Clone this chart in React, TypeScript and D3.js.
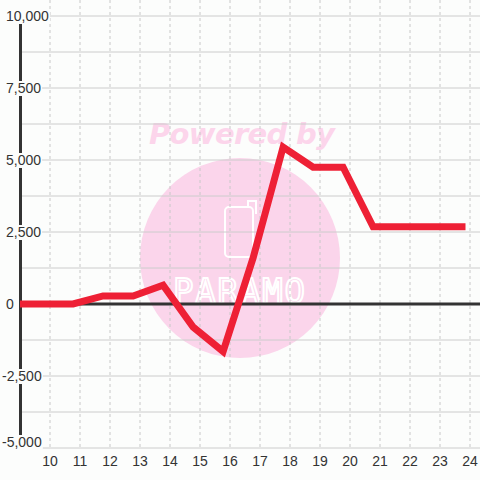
import React from "react";
import * as d3 from "d3";

const hours = [9, 10.77, 11.77, 12.77, 13.77, 14.77, 15.77, 16.77, 17.77, 18.77, 19.77, 20.77, 21.77, 22.77, 23.85];
const values = [0, 0, 280, 280, 650, -800, -1650, 1600, 5450, 4750, 4750, 2680, 2680, 2680, 2680];
const xTicks = [10, 11, 12, 13, 14, 15, 16, 17, 18, 19, 20, 21, 22, 23, 24];
const yTicks = [-5000, -2500, 0, 2500, 5000, 7500, 10000];
const yGrid = [-5000, -3750, -2500, -1250, 0, 1250, 2500, 3750, 5000, 6250, 7500, 8750, 10000];

const W = 480;
const H = 480;
const BG = "#fcfdfc";

export default function App() {
  const x = d3.scaleLinear().domain([9, 24.3333]).range([20, 480]);
  const y = d3.scaleLinear().domain([-5000, 10000]).range([448, 16]);
  const fmt = d3.format(",");
  const line = d3
    .line<number>()
    .x((_, i) => x(hours[i]))
    .y((d) => y(d));
  const path = line(values) || "";

  const charW = (s: string) =>
    s.split("").reduce((a, c) => a + (c === "," ? 3.9 : c === "-" ? 4.7 : 7.8), 0);

  return (
    <svg
      width={W}
      height={H}
      style={{ position: "absolute", left: 0, top: 0, background: BG }}
      fontFamily="'Liberation Sans', Arial, sans-serif"
    >
      <rect x={0} y={0} width={W} height={H} fill={BG} />
      {/* watermark */}
      <g>
        <circle cx={240} cy={258} r={100} fill="#fbd5eb" />
        <text
          x={242}
          y={144}
          textAnchor="middle"
          fontSize={29}
          fontWeight="bold"
          fontStyle="italic"
          fill="#fcd5eb"
          textLength={186}
          fontFamily="'DejaVu Sans', sans-serif"
        >
          Powered by
        </text>
        <rect x={225} y={207} width={28} height={50} rx={4} fill="none" stroke="#fff" strokeWidth={2} />
        <path d="M248,207 L248,201 L256,201 L256,214" fill="none" stroke="#fff" strokeWidth={2} />
        <text
          x={239}
          y={303}
          textAnchor="middle"
          fontSize={34}
          fill="none"
          stroke="#fff"
          strokeWidth={2}
          textLength={132}
          fontFamily="'DejaVu Sans Mono', monospace"
        >
          PARAMO
        </text>
      </g>
      {/* horizontal grid */}
      {yGrid.map((v) => (
        <line key={"h" + v} x1={20} x2={480} y1={y(v)} y2={y(v)} stroke="#cccccc" strokeWidth={1} />
      ))}
      {/* vertical grid */}
      {xTicks.map((t) => (
        <line
          key={"v" + t}
          x1={x(t)}
          x2={x(t)}
          y1={0}
          y2={448}
          stroke="#c8c8c8"
          strokeWidth={1}
          strokeDasharray="3,3"
        />
      ))}
      {/* axis bar */}
      <line x1={20.5} x2={20.5} y1={16} y2={448} stroke="#333" strokeWidth={3} />
      {/* zero line */}
      <line x1={20} x2={480} y1={y(0)} y2={y(0)} stroke="#333" strokeWidth={3} />
      {/* data line */}
      <path d={path} fill="none" stroke="#ee2035" strokeWidth={7} strokeLinejoin="miter" />
      {/* y labels */}
      {yTicks.map((v) => {
        const s = fmt(v).replace("−", "-");
        const x0 = v < 0 ? 2 : 6;
        const cy = Math.min(y(v), 442);
        return (
          <g key={"yl" + v}>
            <rect x={x0 - 1} y={cy - 7} width={charW(s) + 2} height={15} fill={BG} />
            <text x={x0} y={cy + 5} fontSize={14} fill="#333">
              {s}
            </text>
          </g>
        );
      })}
      {/* x labels */}
      {xTicks.map((t) => (
        <text key={"xl" + t} x={x(t)} y={466} textAnchor="middle" fontSize={14} fill="#333">
          {t}
        </text>
      ))}
    </svg>
  );
}
